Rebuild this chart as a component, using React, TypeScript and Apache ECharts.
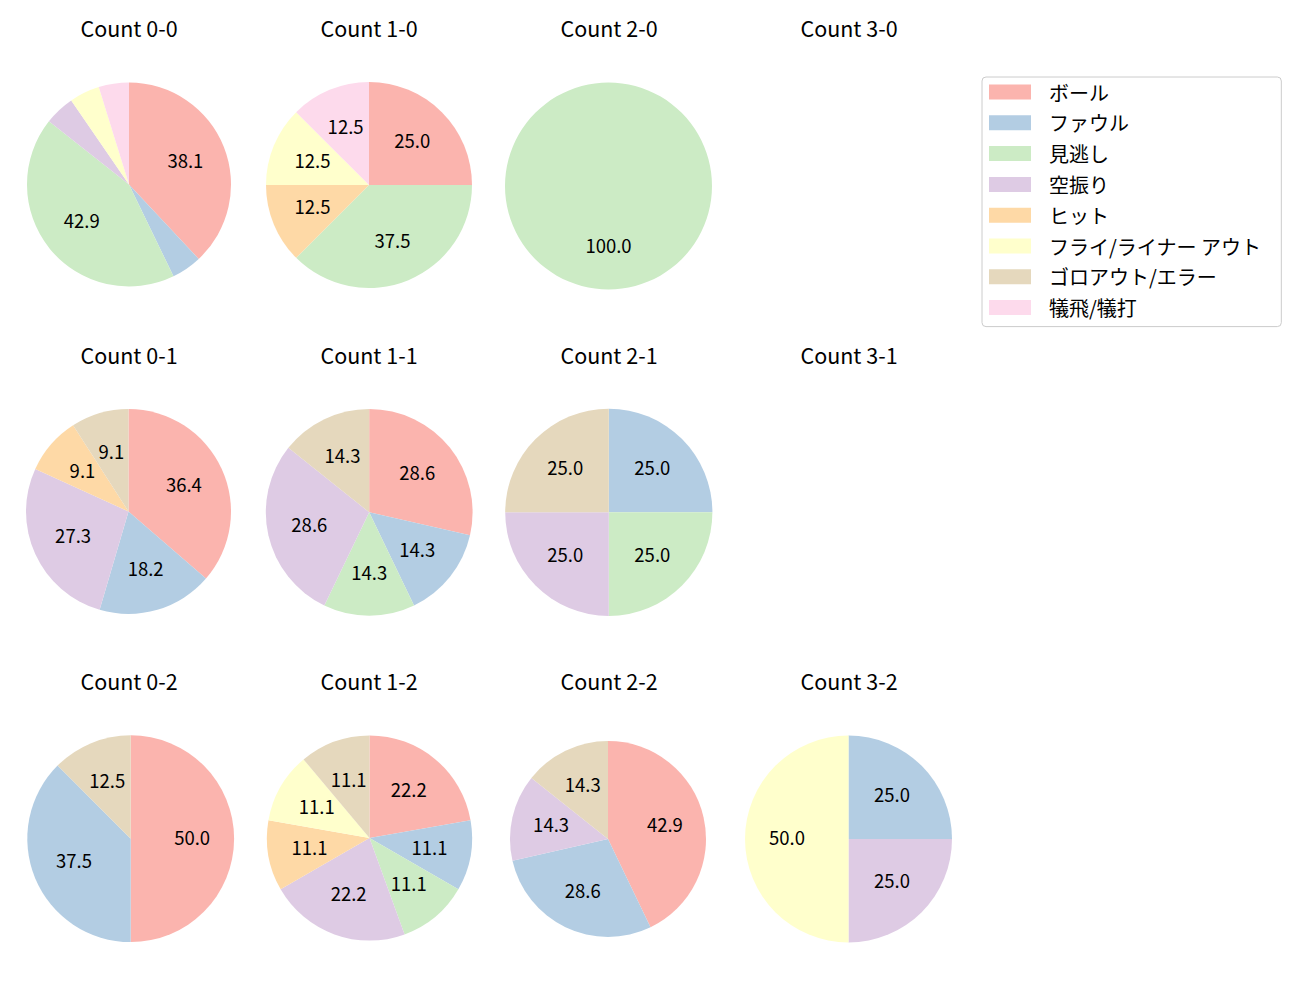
import React, { useEffect, useRef } from 'react';
import * as echarts from 'echarts';

const categories = ['ボール', 'ファウル', '見逃し', '空振り', 'ヒット', 'フライ/ライナー アウト', 'ゴロアウト/エラー', '犠飛/犠打'];
const palette = ['#fbb4ae', '#b3cde3', '#ccebc5', '#decbe4', '#fed9a6', '#ffffcc', '#e5d8bd', '#fddaec'];

const titles = ['Count 0-0', 'Count 1-0', 'Count 2-0', 'Count 3-0',
  'Count 0-1', 'Count 1-1', 'Count 2-1', 'Count 3-1',
  'Count 0-2', 'Count 1-2', 'Count 2-2', 'Count 3-2'];

// percentages per category (order of categories)
const count00 = [38.1, 4.8, 42.9, 4.8, 0, 4.8, 0, 4.8];
const count10 = [25.0, 0, 37.5, 0, 12.5, 12.5, 0, 12.5];
const count20 = [0, 0, 100.0, 0, 0, 0, 0, 0];
const count30: number[] = [];
const count01 = [36.4, 18.2, 0, 27.3, 9.1, 0, 9.1, 0];
const count11 = [28.6, 14.3, 14.3, 28.6, 0, 0, 14.3, 0];
const count21 = [0, 25.0, 25.0, 25.0, 0, 0, 25.0, 0];
const count31: number[] = [];
const count02 = [50.0, 37.5, 0, 0, 0, 0, 12.5, 0];
const count12 = [22.2, 11.1, 11.1, 22.2, 11.1, 11.1, 11.1, 0];
const count22 = [42.9, 28.6, 0, 14.3, 0, 0, 14.3, 0];
const count32 = [0, 25.0, 0, 25.0, 0, 50.0, 0, 0];

const panelData = [count00, count10, count20, count30, count01, count11, count21, count31, count02, count12, count22, count32];

// layout (pixel centers / radii of each panel)
const colX = [129, 369, 609, 849];
const titleY = [27, 354, 680];
const pieCenters: [number, number][] = [
  [129, 184.5], [369, 185], [608.5, 186], [849, 185],
  [128.5, 511.5], [369.2, 512.3], [608.8, 512.3], [849, 512],
  [130.7, 838.7], [369.5, 838], [608, 839], [848.5, 839],
];
const pieRadii = [102, 103, 103.5, 103, 102.5, 103.4, 103.6, 103, 103.4, 102.6, 98, 103.5];

const FONT = '"Noto Sans CJK JP", "Noto Sans", sans-serif';

export default function App() {
  const ref = useRef<HTMLDivElement>(null);
  useEffect(() => {
    document.body.style.margin = '0';
    if (!ref.current) return;
    const chart = echarts.init(ref.current, null, { renderer: 'svg' });

    const titleOpts = titles.map((t, i) => ({
      text: t,
      left: colX[i % 4],
      top: titleY[Math.floor(i / 4)],
      textAlign: 'center',
      textVerticalAlign: 'middle',
      padding: 0,
      textStyle: { fontFamily: FONT, fontSize: 21.5, fontWeight: 'normal', color: '#000' },
    }));

    const mainSeries: any[] = [];
    const labelSeries: any[] = [];
    panelData.forEach((vals, i) => {
      if (!vals.length) return;
      const items = categories
        .map((name, k) => ({ name, value: vals[k], k }))
        .filter((d) => d.value > 0);
      const r = pieRadii[i];
      mainSeries.push({
        type: 'pie',
        center: pieCenters[i],
        radius: [0, r],
        startAngle: 90,
        clockwise: true,
        silent: true,
        label: { show: false },
        labelLine: { show: false },
        itemStyle: { borderWidth: 0 },
        data: items.map((d) => ({ name: d.name, value: d.value, itemStyle: { color: palette[d.k] } })),
      });
      labelSeries.push({
        type: 'pie',
        center: [pieCenters[i][0], pieCenters[i][1] - 2],
        radius: [r * 0.13, r],
        startAngle: 90,
        clockwise: true,
        silent: true,
        labelLine: { show: false },
        itemStyle: { color: 'rgba(0,0,0,0)', borderWidth: 0 },
        label: {
          show: true,
          position: 'inside',
          fontFamily: FONT,
          fontSize: 18.5,
          color: '#000',
          formatter: (p: any) => (p.value >= 5 ? Number(p.value).toFixed(1) : ''),
        },
        data: items.map((d) => ({ name: d.name, value: d.value })),
      });
    });

    chart.setOption({
      animation: false,
      backgroundColor: '#ffffff',
      title: titleOpts,
      legend: {
        orient: 'vertical',
        left: 982,
        top: 77,
        data: categories,
        icon: 'rect',
        itemWidth: 42,
        itemHeight: 15,
        itemGap: 10.8,
        selectedMode: false,
        padding: [5, 20, 9, 7],
        borderColor: '#cccccc',
        borderWidth: 1,
        borderRadius: 4,
        itemStyle: { borderWidth: 0 },
        textStyle: { fontFamily: FONT, fontSize: 20, lineHeight: 20, color: '#000', padding: [0, 0, 0, 13] },
      },
      series: [...mainSeries, ...labelSeries],
    });
    return () => chart.dispose();
  }, []);
  return <div ref={ref} style={{ width: 1300, height: 1000 }} />;
}
